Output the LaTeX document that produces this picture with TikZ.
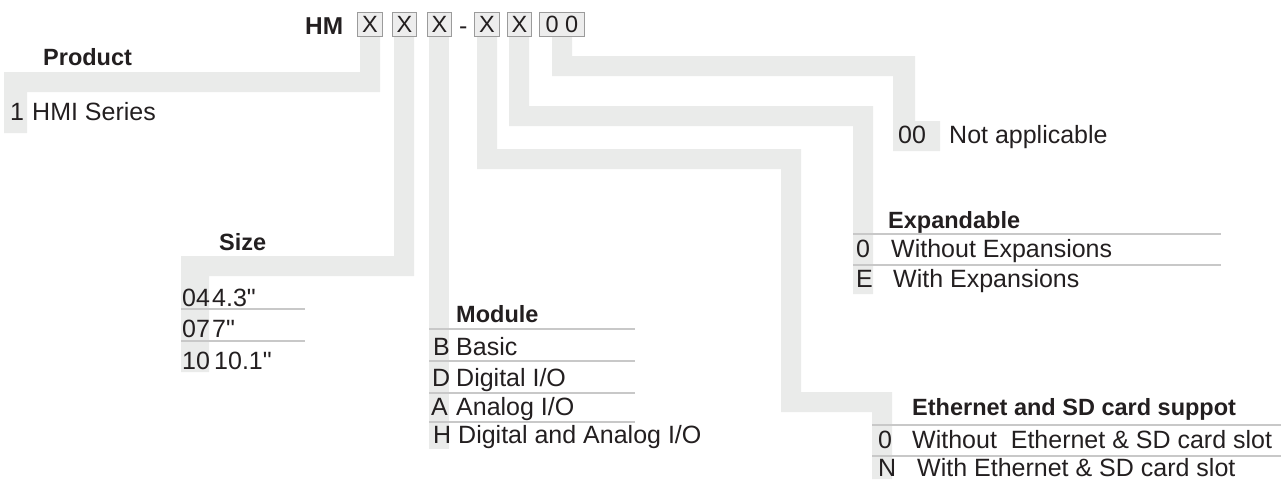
\documentclass[tikz,border=0pt]{standalone}
\usepackage{fontspec}
\setmainfont{Liberation Sans}
\newfontfamily\rawfont{Liberation Sans}
\definecolor{bar}{RGB}{234,235,234}
\definecolor{sep}{RGB}{200,200,200}
\definecolor{ink}{RGB}{35,31,32}
\definecolor{boxfill}{RGB}{237,237,237}
\definecolor{boxline}{RGB}{155,155,155}
\newcommand{\inchmark}{{\rawfont"}}
\begin{document}
\begin{tikzpicture}[x=1pt,y=-1pt,
  txt/.style={anchor=base west, inner sep=0pt, text=ink, font=\fontsize{25}{30}\selectfont},
  head/.style={anchor=base west, inner sep=0pt, text=ink, font=\fontsize{23.5}{28}\selectfont\bfseries},
  code/.style={draw=boxline, fill=boxfill, line width=1pt, inner sep=0pt, text=ink,
    font=\fontsize{23.5}{28}\selectfont, anchor=north west, minimum height=24pt},
  sepline/.style={draw=sep, line width=1.5pt},
  barfill/.style={fill=bar, draw=none}]
\useasboundingbox (0,0) rectangle (1281,479);

% ---- grey leader bars ----
% Product
\fill[barfill] (360,36) -- (380,36) -- (380,92) -- (27,92) -- (27,133) -- (4,133) -- (4,72) -- (360,72) -- cycle;
% Size
\fill[barfill] (394,36) -- (414,36) -- (414,276) -- (209,276) -- (209,372) -- (181,372) -- (181,256) -- (394,256) -- cycle;
% Module
\fill[barfill] (429,36) rectangle (449,449);
% Ethernet
\fill[barfill] (477,36) -- (497,36) -- (497,149) -- (801,149) -- (801,392) -- (892,392) -- (892,479) -- (872,479) -- (872,412) -- (781,412) -- (781,169) -- (477,169) -- cycle;
% Expandable
\fill[barfill] (509,36) -- (529,36) -- (529,106) -- (873,106) -- (873,294) -- (853,294) -- (853,126) -- (509,126) -- cycle;
% Not applicable
\fill[barfill] (552,36) -- (572,36) -- (572,56) -- (915,56) -- (915,121) -- (940,121) -- (940,151) -- (893,151) -- (893,76) -- (552,76) -- cycle;

% ---- header code ----
\node[anchor=base west, inner sep=0pt, text=ink, font=\fontsize{24.4}{29}\selectfont\bfseries] (hm) at (305,34) {HM};
\node[code, minimum width=25pt] (c1) at (357,12) {X};
\node[code, minimum width=24pt] (c2) at (392,12) {X};
\node[code, minimum width=24pt] (c3) at (427,12) {X};
\node[anchor=base west, inner sep=0pt, text=ink, font=\fontsize{25}{30}\selectfont] (dash) at (459,34) {-};
\node[code, minimum width=25pt] (c4) at (474,12) {X};
\node[code, minimum width=24pt] (c5) at (507,12) {X};
\node[code, minimum width=45pt] (c6) at (539,12) {0 0};

% ---- Product ----
\node[head] (prodh) at (43,65) {Product};
\node[txt] (p1k) at (10,120) {1};
\node[txt] (p1v) at (32,120) {HMI Series};

% ---- Size ----
\node[head] (sizeh) at (219,250) {Size};
\node[txt] (s1k) at (182,306) {04};
\node[txt] (s1v) at (212,306) {4.3\inchmark};
\node[txt] (s2k) at (182,337) {07};
\node[txt] (s2v) at (212,337) {7\inchmark};
\node[txt] (s3k) at (182,369) {10};
\node[txt] (s3v) at (214,369) {10.1\inchmark};
\draw[sepline] (181,309) -- (305,309);
\draw[sepline] (181,341) -- (305,341);

% ---- Module ----
\node[head] (modh) at (456,322) {Module};
\node[txt] (m1k) at (433,355) {B};
\node[txt] (m1v) at (456,355) {Basic};
\node[txt] (m2k) at (432,386) {D};
\node[txt] (m2v) at (456,386) {Digital I/O};
\node[txt] (m3k) at (431,415) {A};
\node[txt] (m3v) at (456,415) {Analog I/O};
\node[txt] (m4k) at (433,443) {H};
\node[txt] (m4v) at (458,443) {Digital and Analog I/O};
\draw[sepline] (429,329) -- (635,329);
\draw[sepline] (429,361) -- (635,361);
\draw[sepline] (429,393) -- (635,393);
\draw[sepline] (429,422) -- (635,422);

% ---- Not applicable ----
\node[txt] (n1k) at (898,143) {00};
\node[txt] (n1v) at (949,143) {Not applicable};

% ---- Expandable ----
\node[head] (exph) at (888,228) {Expandable};
\node[txt] (e1k) at (856,257) {0};
\node[txt] (e1v) at (891,257) {Without Expansions};
\node[txt] (e2k) at (856,287) {E};
\node[txt] (e2v) at (893,287) {With Expansions};
\draw[sepline] (853,234) -- (1221,234);
\draw[sepline] (853,265) -- (1221,265);

% ---- Ethernet ----
\node[head] (ethh) at (912,415) {Ethernet and SD card suppot};
\node[txt] (t1k) at (878,448) {0};
\node[txt] (t1v) at (912,448) {Without\ \ Ethernet \& SD card slot};
\node[txt] (t2k) at (878,476) {N};
\node[txt] (t2v) at (917,476) {With Ethernet \& SD card slot};
\draw[sepline] (872,425) -- (1281,425);
\draw[sepline] (872,456) -- (1281,456);
\end{tikzpicture}
\end{document}
